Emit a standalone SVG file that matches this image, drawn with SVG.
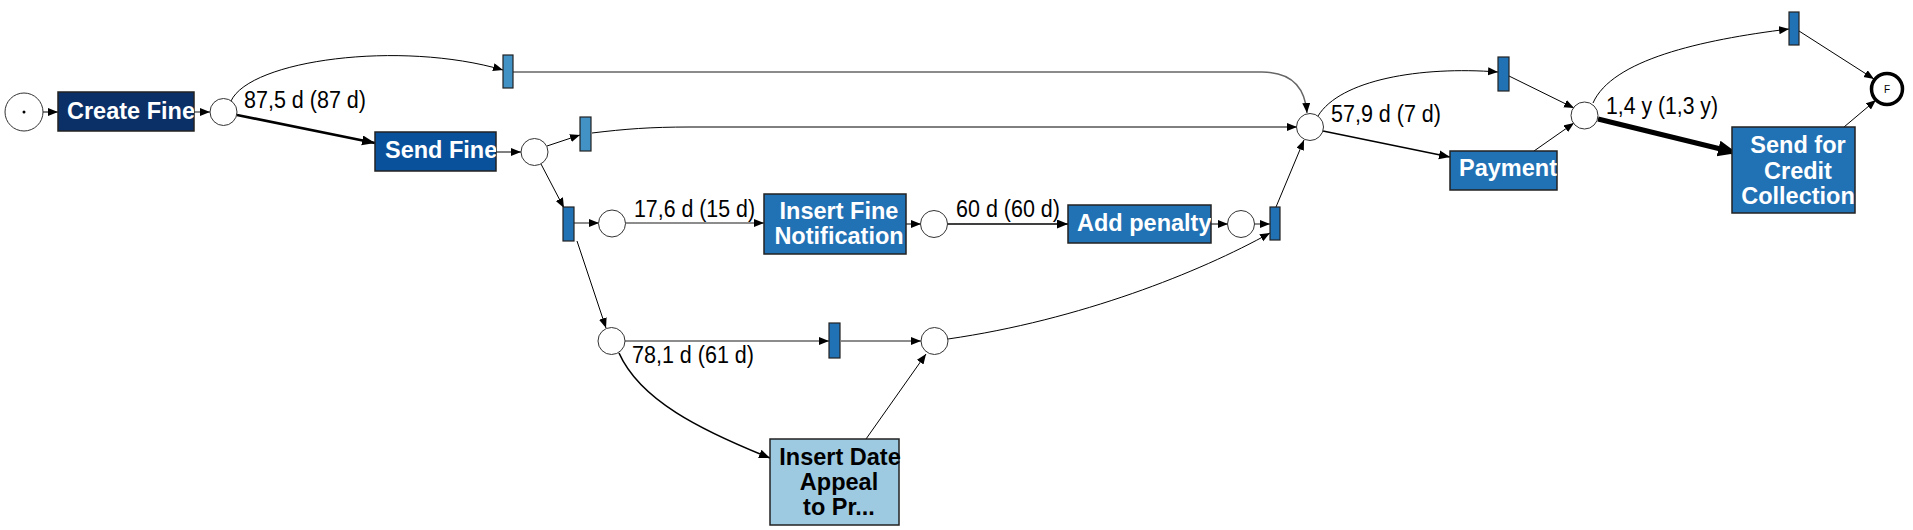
<svg xmlns="http://www.w3.org/2000/svg" width="1913" height="530" viewBox="0 0 1913 530">
<style>
.pl{fill:#fff;stroke:#333;stroke-width:1}
.box{stroke:#222;stroke-width:1.5}
.tr{stroke:#222;stroke-width:1.2}
.t1{fill:#4292c6}
.t2{fill:#2171b5}
.bt{font-family:"Liberation Sans",Arial,sans-serif;font-weight:bold;font-size:23.5px;fill:#fff}
.lb{font-family:"Liberation Sans",Arial,sans-serif;font-size:23px;fill:#000}
.e{fill:none;stroke:#000;stroke-width:1;marker-end:url(#a)}
.g{fill:none;stroke:#666;stroke-width:1.5;marker-end:url(#a)}
.m{fill:none;stroke:#000;stroke-width:1.6;marker-end:url(#a2)}
.k{fill:none;stroke:#000;stroke-width:2.6;marker-end:url(#a3)}
.x{fill:none;stroke:#000;stroke-width:5;marker-end:url(#a4)}
</style>
<defs>
<marker id="a" markerUnits="userSpaceOnUse" markerWidth="12" markerHeight="10" refX="10" refY="4" orient="auto"><path d="M0,0 L10,4 L0,8 z" fill="#000"/></marker>
<marker id="a2" markerUnits="userSpaceOnUse" markerWidth="14" markerHeight="10" refX="11" refY="4.5" orient="auto"><path d="M0,0 L11,4.5 L0,9 z" fill="#000"/></marker>
<marker id="a3" markerUnits="userSpaceOnUse" markerWidth="16" markerHeight="12" refX="13" refY="5" orient="auto"><path d="M0,0 L13,5 L0,10 z" fill="#000"/></marker>
<marker id="a4" markerUnits="userSpaceOnUse" markerWidth="22" markerHeight="18" refX="19" refY="8" orient="auto"><path d="M0,0 L19,8 L0,16 z" fill="#000"/></marker>
<clipPath id="c1"><rect x="58" y="92" width="136" height="39"/></clipPath>
<clipPath id="c2"><rect x="375" y="132" width="121" height="39"/></clipPath>
<clipPath id="c3"><rect x="764" y="194" width="142" height="60"/></clipPath>
<clipPath id="c4"><rect x="1068" y="205" width="143" height="38"/></clipPath>
<clipPath id="c5"><rect x="1450" y="151" width="107" height="39"/></clipPath>
<clipPath id="c6"><rect x="1732" y="127" width="123" height="86"/></clipPath>
</defs>
<rect width="1913" height="530" fill="#fff"/>
<g id="connectors">
<path class="e" d="M43,112 L58,112"/>
<path class="g" d="M194,112 L210,112"/>
<path class="e" d="M231,101 C250,60 400,40 503,70"/>
<path class="k" d="M237,115 L375,143"/>
<path class="g" d="M513,72 L1262,72 C1290,72 1305,86 1307,113"/>
<path class="e" d="M496,152 L521,152"/>
<path class="e" d="M547,146 L580,135"/>
<path class="e" d="M592,133 C625,129 650,127 690,127 L1297,127"/>
<path class="e" d="M541,164 L564,208"/>
<path class="g" d="M574,223 L599,223"/>
<path class="e" d="M577,241 L606,328"/>
<path class="g" d="M625,223 L764,223"/>
<path class="e" d="M906,224 L921,224"/>
<path class="m" d="M947,224 L1068,224"/>
<path class="e" d="M1211,224 L1228,224"/>
<path class="g" d="M1254,224 L1270,224"/>
<path class="e" d="M1276,207 L1304,140"/>
<path class="g" d="M625,341 L829,341"/>
<path class="g" d="M841,341 L921,341"/>
<path class="m" d="M619,353 C640,400 700,430 770,458"/>
<path class="e" d="M866,439 L926,354"/>
<path class="e" d="M948,339 C1080,320 1200,272 1270,233"/>
<path class="e" d="M1318,116 C1340,80 1420,66 1498,72"/>
<path class="m" d="M1323,131 L1450,157"/>
<path class="e" d="M1509,76 L1574,108"/>
<path class="e" d="M1534,151 L1574,123"/>
<path class="x" d="M1598,119 L1737,153"/>
<path class="e" d="M1593,103 C1612,60 1700,40 1789,29"/>
<path class="e" d="M1799,31 L1874,79"/>
<path class="e" d="M1844,127 L1876,100"/>
</g>
<g id="start"><circle class="pl" cx="24" cy="112" r="19"/><circle cx="24" cy="112" r="1.5" fill="#000"/></g>
<g id="createFine"><rect class="box" x="58" y="92" width="136" height="39" fill="#0b3068"/><text class="bt" x="67" y="119" clip-path="url(#c1)">Create Fine</text></g>
<g id="p2"><circle class="pl" cx="223.5" cy="112" r="13.5"/></g>
<text class="lb" x="244" y="108" textLength="122" lengthAdjust="spacingAndGlyphs">87,5 d (87 d)</text>
<g id="t1"><rect class="tr t1" x="503" y="55" width="10" height="33"/></g>
<g id="sendFine"><rect class="box" x="375" y="132" width="121" height="39" fill="#0a519c"/><text class="bt" x="385" y="158" clip-path="url(#c2)">Send Fine</text></g>
<g id="p3"><circle class="pl" cx="534.5" cy="152" r="13.5"/></g>
<g id="t2"><rect class="tr t1" x="580" y="117" width="11" height="34"/></g>
<g id="t3"><rect class="tr t2" x="563" y="207" width="11" height="34"/></g>
<g id="p4"><circle class="pl" cx="612" cy="223.5" r="13.5"/></g>
<text class="lb" x="634" y="217" textLength="121" lengthAdjust="spacingAndGlyphs">17,6 d (15 d)</text>
<g id="insertFineNotification"><rect class="box" x="764" y="194" width="142" height="60" fill="#2171b5"/><text class="bt" x="839" y="219" text-anchor="middle" clip-path="url(#c3)">Insert Fine<tspan x="839" y="244">Notification</tspan></text></g>
<g id="p6"><circle class="pl" cx="934" cy="224" r="13.5"/></g>
<text class="lb" x="956" y="217" textLength="104" lengthAdjust="spacingAndGlyphs">60 d (60 d)</text>
<g id="addPenalty"><rect class="box" x="1068" y="205" width="143" height="38" fill="#2171b5"/><text class="bt" x="1077" y="231" clip-path="url(#c4)">Add penalty</text></g>
<g id="p7"><circle class="pl" cx="1241" cy="224" r="13.5"/></g>
<g id="t4"><rect class="tr t2" x="1270" y="207" width="10" height="33"/></g>
<g id="p5"><circle class="pl" cx="611.5" cy="341" r="13.5"/></g>
<text class="lb" x="632" y="363" textLength="122" lengthAdjust="spacingAndGlyphs">78,1 d (61 d)</text>
<g id="t7"><rect class="tr t2" x="829" y="323" width="11" height="35"/></g>
<g id="p10"><circle class="pl" cx="934.5" cy="341" r="13.5"/></g>
<g id="insertDate"><rect class="box" x="770" y="439" width="129" height="86" fill="#9ecae1"/><text class="bt" x="840" y="465" text-anchor="middle" style="fill:#000">Insert Date<tspan x="839" y="490">Appeal</tspan><tspan x="839" y="515">to Pr...</tspan></text></g>
<g id="p8"><circle class="pl" cx="1310" cy="127" r="13.5"/></g>
<text class="lb" x="1331" y="122" textLength="110" lengthAdjust="spacingAndGlyphs">57,9 d (7 d)</text>
<g id="t5"><rect class="tr t2" x="1498" y="57" width="11" height="34"/></g>
<g id="payment"><rect class="box" x="1450" y="151" width="107" height="39" fill="#2171b5"/><text class="bt" x="1459" y="176" clip-path="url(#c5)">Payment</text></g>
<g id="p9"><circle class="pl" cx="1584.5" cy="115.5" r="13.5"/></g>
<text class="lb" x="1606" y="114" textLength="112" lengthAdjust="spacingAndGlyphs">1,4 y (1,3 y)</text>
<g id="sendCredit"><rect class="box" x="1732" y="127" width="123" height="86" fill="#2171b5"/><text class="bt" x="1798" y="153" text-anchor="middle" clip-path="url(#c6)">Send for<tspan x="1798" y="179">Credit</tspan><tspan x="1798" y="204">Collection</tspan></text></g>
<g id="t6"><rect class="tr t2" x="1789" y="12" width="10" height="33"/></g>
<g id="final"><circle cx="1887" cy="89" r="15.5" fill="#fff" stroke="#000" stroke-width="3.5"/><text x="1887" y="93" text-anchor="middle" font-family="Liberation Sans,Arial,sans-serif" font-size="10">F</text></g>
</svg>
